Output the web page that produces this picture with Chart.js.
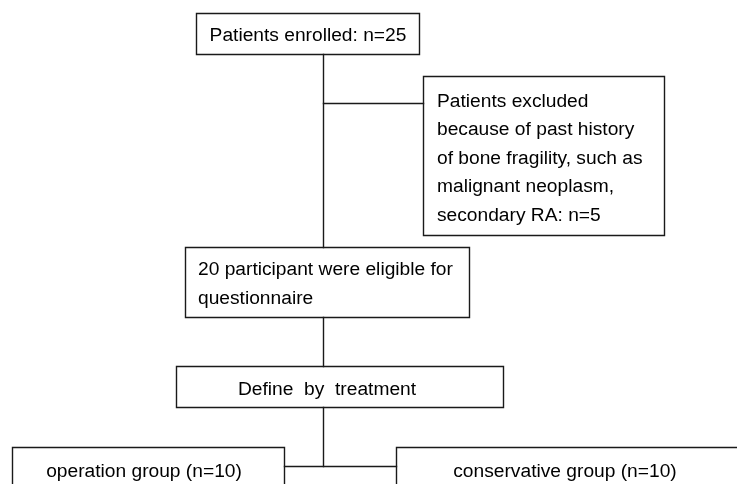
<!DOCTYPE html>
<html>
<head>
<meta charset="utf-8">
<script src="https://cdn.jsdelivr.net/npm/chart.js@4"></script>
<style>
html,body{margin:0;padding:0;background:#fff;}
#wrap{width:737px;height:484px;}
</style>
</head>
<body>
<div id="wrap"><canvas id="c" width="737" height="484"></canvas></div>
<script>
// ---- flowchart content ----
const boxTexts = [
  ["Patients enrolled: n=25"],
  ["Patients excluded", "because of past history", "of bone fragility, such as", "malignant neoplasm,", "secondary RA: n=5"],
  ["20 participant were eligible for", "questionnaire"],
  ["Define  by  treatment"],
  ["operation group (n=10)"],
  ["conservative group (n=10)"]
];
const boxAlign = ["center", "left", "left", "center", "center", "center"];
// box extents in chart units [x0, x1, y0, y1]
const boxX0 = [196.5, 423.5, 185.5, 176.5, 12.5, 396.5];
const boxX1 = [419.5, 664.5, 469.5, 503.5, 284.5, 745];
const boxY0 = [13.5, 76.5, 247.5, 366.5, 447.5, 447.5];
const boxY1 = [54.5, 235.5, 317.5, 407.5, 495, 495];
// text anchor (x) and first baseline (y), line step
const textX = [308, 437, 198, 327, 144, 565];
const textY = [40.5, 106.5, 275, 395, 477, 477];
const lineStep = 28.5;
// connector segments [x0,y0,x1,y1]
const connectors = [
  [323.5, 54.5, 323.5, 247.5],
  [323.5, 103.5, 423.5, 103.5],
  [323.5, 317.5, 323.5, 366.5],
  [323.5, 407.5, 323.5, 466.5],
  [284.5, 466.5, 396.5, 466.5]
];

const datasets = [];
for (let i = 0; i < boxX0.length; i++) {
  datasets.push({
    data: [
      {x: boxX0[i], y: boxY0[i]}, {x: boxX1[i], y: boxY0[i]},
      {x: boxX1[i], y: boxY1[i]}, {x: boxX0[i], y: boxY1[i]},
      {x: boxX0[i], y: boxY0[i]}
    ],
    backgroundColor: '#fff', fill: false
  });
}
connectors.forEach(s => {
  datasets.push({ data: [{x: s[0], y: s[1]}, {x: s[2], y: s[3]}] });
});
datasets.forEach(d => {
  d.showLine = true; d.pointRadius = 0; d.borderColor = '#1a1a1a';
  d.borderWidth = 1.4; d.tension = 0; d.borderCapStyle = 'square'; d.borderJoinStyle = 'miter';
});

const textPlugin = {
  id: 'boxText',
  afterDatasetsDraw(chart) {
    const ctx = chart.ctx;
    const xs = chart.scales.x, ys = chart.scales.y;
    ctx.save();
    ctx.fillStyle = '#000';
    ctx.font = '19.2px "Liberation Sans", Arial, sans-serif';
    ctx.textBaseline = 'alphabetic';
    boxTexts.forEach((lines, i) => {
      ctx.textAlign = boxAlign[i];
      lines.forEach((t, j) => {
        ctx.fillText(t, xs.getPixelForValue(textX[i]), ys.getPixelForValue(textY[i] + j * lineStep));
      });
    });
    ctx.restore();
  }
};

new Chart(document.getElementById('c'), {
  type: 'scatter',
  data: { datasets },
  options: {
    responsive: false,
    animation: false,
    events: [],
    layout: { padding: 0 },
    plugins: { legend: { display: false }, tooltip: { enabled: false } },
    scales: {
      x: { type: 'linear', min: 0, max: 737, display: false },
      y: { type: 'linear', min: 0, max: 484, reverse: true, display: false }
    }
  },
  plugins: [textPlugin]
});
</script>
</body>
</html>
